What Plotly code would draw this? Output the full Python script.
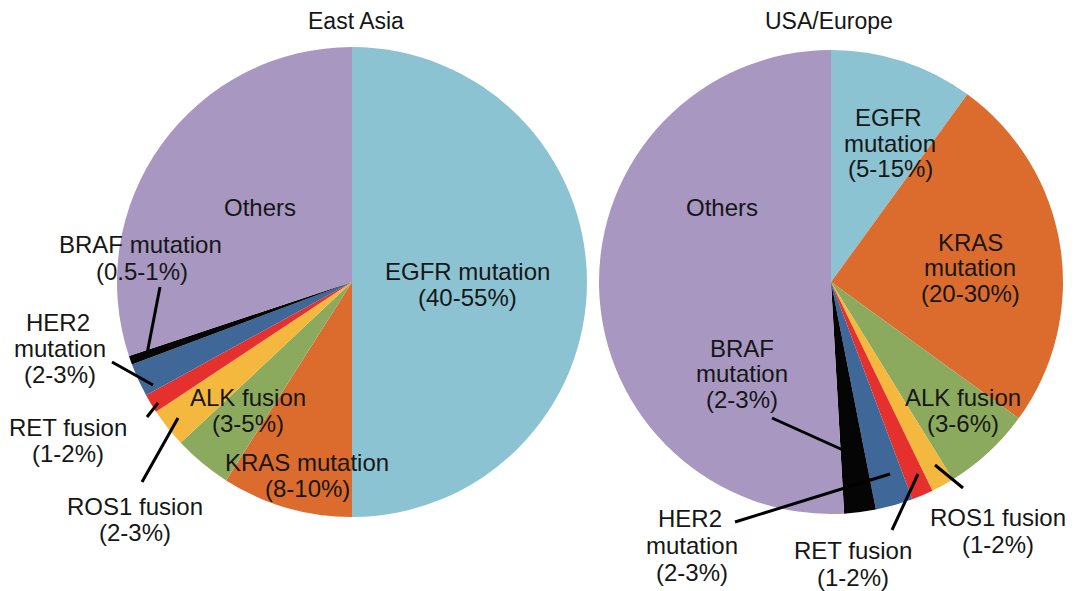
import plotly.graph_objects as go

W, H = 1080, 591

categories = ["EGFR mutation", "KRAS mutation", "ALK fusion", "ROS1 fusion",
              "RET fusion", "HER2 mutation", "BRAF mutation", "Others"]
east_asia_values = [50.0, 9.0, 4.0, 2.7, 1.3, 2.3, 0.6, 30.1]
usa_europe_values = [10.0, 25.0, 6.2, 1.6, 1.5, 2.6, 2.2, 50.9]
colors = ["#8BC3D2", "#DC6C2E", "#8CAA5E", "#F4B83E", "#E5302E", "#3F6899", "#050505", "#A797C1"]

titles = ["East Asia", "USA/Europe"]

# label lines: (text, x_px, y_px)
east_labels = [
    ("Others", 260, 207),
    ("EGFR mutation", 467, 271), ("(40-55%)", 467, 297),
    ("BRAF mutation", 140, 245), ("(0.5-1%)", 142, 271),
    ("HER2", 58, 322), ("mutation", 60, 348), ("(2-3%)", 60, 374),
    ("RET fusion", 68, 427), ("(1-2%)", 68, 453),
    ("ROS1 fusion", 135, 506), ("(2-3%)", 135, 532),
    ("ALK fusion", 248, 397), ("(3-5%)", 248, 423),
    ("KRAS mutation", 307, 462), ("(8-10%)", 307, 488),
]
west_labels = [
    ("Others", 722, 207),
    ("EGFR", 888, 117), ("mutation", 890, 143), ("(5-15%)", 890, 169),
    ("KRAS", 970, 242), ("mutation", 970, 267), ("(20-30%)", 970, 293),
    ("ALK fusion", 963, 397), ("(3-6%)", 963, 423),
    ("BRAF", 742, 348), ("mutation", 742, 373), ("(2-3%)", 742, 399),
    ("HER2", 690, 518), ("mutation", 692, 545), ("(2-3%)", 692, 572),
    ("RET fusion", 853, 550), ("(1-2%)", 853, 577),
    ("ROS1 fusion", 998, 517), ("(1-2%)", 998, 544),
]
# leader lines (x0, y0, x1, y1) in px
leaders = [
    (160, 287, 147, 354),
    (112, 362, 153, 385),
    (147, 417, 158, 403),
    (142, 482, 178, 418),
    (772, 418, 843, 450),
    (735, 522, 890, 474),
    (892, 530, 918, 474),
    (963, 488, 935, 465),
]

def px(x):
    return x / W

def py(y):
    return 1 - y / H

fig = go.Figure()
fig.add_trace(go.Pie(
    labels=categories, values=east_asia_values, sort=False, direction="clockwise",
    rotation=0, marker=dict(colors=colors, line=dict(width=0)), textinfo="none",
    hoverinfo="label+value", showlegend=False,
    domain=dict(x=[px(352 - 235), px(352 + 235)], y=[py(282 + 235), py(282 - 235)]),
))
fig.add_trace(go.Pie(
    labels=categories, values=usa_europe_values, sort=False, direction="clockwise",
    rotation=0, marker=dict(colors=colors, line=dict(width=0)), textinfo="none",
    hoverinfo="label+value", showlegend=False,
    domain=dict(x=[px(831 - 232), px(831 + 232)], y=[py(282 + 232), py(282 - 232)]),
))

font_family = "Liberation Sans, Arial, Helvetica, sans-serif"
annotations = []
for t, x in zip(titles, [356, 829]):
    annotations.append(dict(text=t, x=px(x), y=py(21), xref="paper", yref="paper",
                            xanchor="center", yanchor="middle", showarrow=False,
                            font=dict(family=font_family, size=23, color="#161616")))
for t, x, y in east_labels + west_labels:
    annotations.append(dict(text=t, x=px(x), y=py(y), xref="paper", yref="paper",
                            xanchor="center", yanchor="middle", showarrow=False,
                            font=dict(family=font_family, size=24, color="#161616")))

shapes = [dict(type="line", xref="paper", yref="paper", x0=px(a), y0=py(b), x1=px(c), y1=py(d),
               line=dict(color="black", width=3)) for a, b, c, d in leaders]

fig.update_layout(
    width=W, height=H, margin=dict(l=0, r=0, t=0, b=0),
    paper_bgcolor="white", plot_bgcolor="white",
    annotations=annotations, shapes=shapes,
)
fig.write_html("out.html")
